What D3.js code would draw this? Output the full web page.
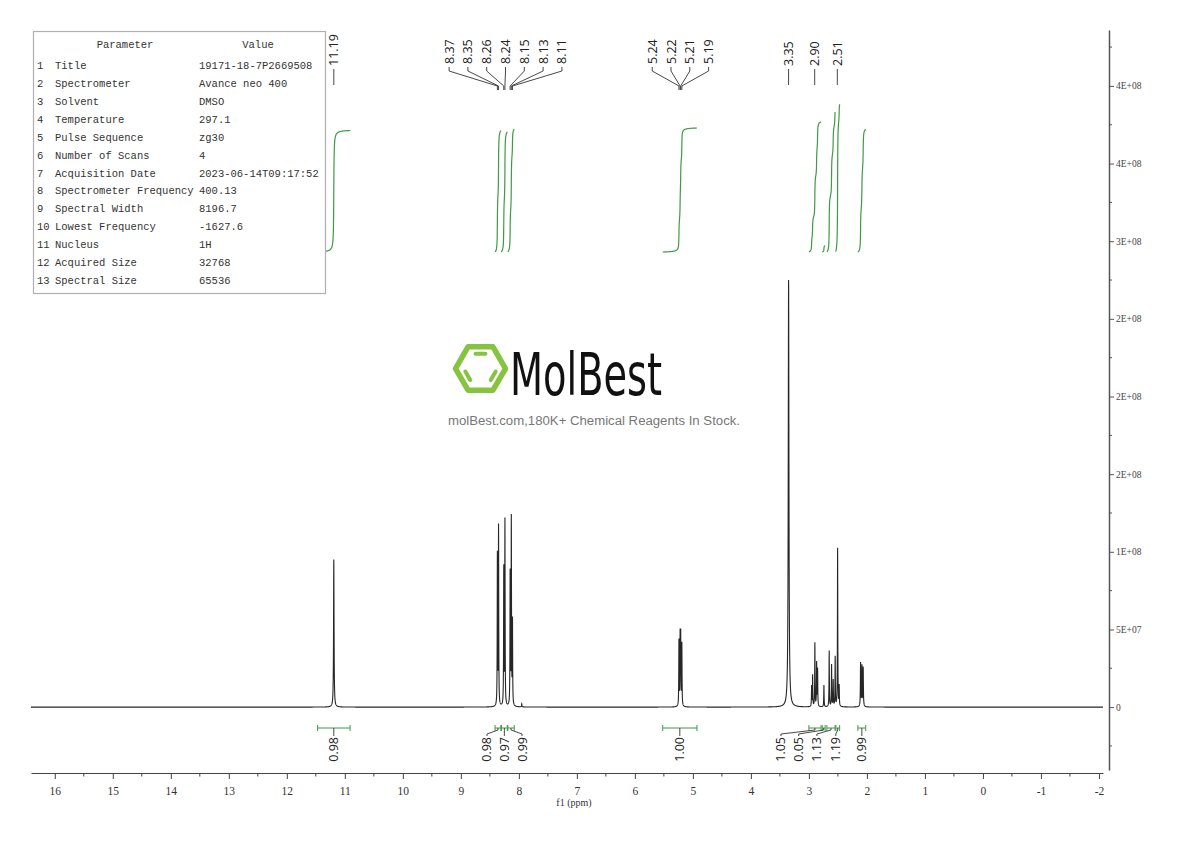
<!DOCTYPE html>
<html><head><meta charset="utf-8">
<script src="https://cdn.jsdelivr.net/npm/d3@7"></script>
<style>html,body{margin:0;padding:0;background:#fff}svg{display:block}</style>
</head><body>
<svg id="chart" width="1190" height="841"></svg>
<script>
// ---------------- data ----------------
const peakPpm    = [11.19, 8.37, 8.35, 8.26, 8.24, 8.15, 8.13, 8.11, 7.95, 5.24, 5.22, 5.21, 5.19, 3.35,
                    2.953, 2.936, 2.897, 2.867, 2.850, 2.741, 2.650, 2.609, 2.581, 2.547, 2.505, 2.478, 2.109, 2.086, 2.064];
const peakHeight = [95, 97, 115, 88, 119, 85, 120, 54, 2, 42, 44, 44, 40, 275,
                    13, 20, 41, 28, 24, 14, 36, 27, 17, 32, 102, 13, 28, 26, 25]; // x 1e6
const peakHwhm   = [0.005, 0.0035, 0.0035, 0.0035, 0.0035, 0.0035, 0.0035, 0.0035, 0.004, 0.0035, 0.0035, 0.0035, 0.0035, 0.007,
                    0.0035, 0.0035, 0.0035, 0.0035, 0.0035, 0.0035, 0.0035, 0.0035, 0.0035, 0.0035, 0.0035, 0.0035, 0.004, 0.004, 0.004];

const labelPpm   = [11.19, 8.37, 8.35, 8.26, 8.24, 8.15, 8.13, 8.11, 5.24, 5.22, 5.21, 5.19, 3.35, 2.90, 2.51];
const labelText  = ["11.19","8.37","8.35","8.26","8.24","8.15","8.13","8.11","5.24","5.22","5.21","5.19","3.35","2.90","2.51"];

const integralFrom   = [11.47, 8.41, 8.30, 8.19, 5.52, 3.00, 2.77, 2.69, 2.535, 2.155];
const integralTo     = [10.91, 8.31, 8.20, 8.08, 4.93, 2.79, 2.72, 2.55, 2.47, 2.02];
const integralValues = [0.98, 0.98, 0.97, 0.99, 1.00, 1.05, 0.05, 1.13, 1.19, 0.99];
const integralLabelDx = [0, -11, 0, 11, 0, -34, -25, -14, -2, 0]; // layout offsets of labels

const xTickValues = [16,15,14,13,12,11,10,9,8,7,6,5,4,3,2,1,0,-1,-2];
const xTickLabels = ["16","15","14","13","12","11","10","9","8","7","6","5","4","3","2","1","0","-1","-2"];
const yTickValues = [0, 5e7, 1e8, 1.5e8, 2e8, 2.5e8, 3e8, 3.5e8, 4e8];
const yTickLabels = ["0","5E+07","1E+08","2E+08","2E+08","2E+08","3E+08","4E+08","4E+08"];

const paramNames  = ["Title","Spectrometer","Solvent","Temperature","Pulse Sequence","Number of Scans","Acquisition Date",
                     "Spectrometer Frequency","Spectral Width","Lowest Frequency","Nucleus","Acquired Size","Spectral Size"];
const paramValues = ["19171-18-7P2669508","Avance neo 400","DMSO","297.1","zg30","4","2023-06-14T09:17:52",
                     "400.13","8196.7","-1627.6","1H","32768","65536"];

// ---------------- setup ----------------
const svg = d3.select("#chart");
const x = d3.scaleLinear().domain([16.41, -2.07]).range([31, 1103]);
const y = d3.scaleLinear().domain([-4.05e7, 4.36e8]).range([770, 30]);
const yInt = d3.scaleLinear().domain([0, 1]).range([252, 128]);

const GREEN = "#3f9a45";
const peaks = peakPpm.map((p, i) => ({p, h: peakHeight[i] * 1e6, w: peakHwhm[i]}));
function intensity(ppm) {
  let s = 0;
  for (const pk of peaks) { const d = ppm - pk.p; s += pk.h * pk.w * pk.w / (d * d + pk.w * pk.w); }
  return s;
}

// ---------------- spectrum ----------------
const [p0, p1] = x.domain();
const samplePpm = d3.range(p0, p1, -0.001).concat(peakPpm).sort((a, b) => b - a);
const spec = samplePpm.map(p => ({p, v: intensity(p)}));
svg.append("path")
  .datum(spec)
  .attr("fill", "none").attr("stroke", "#262626").attr("stroke-width", 1.1)
  .attr("d", d3.line().x(d => x(d.p)).y(d => y(d.v)));

// ---------------- integral curves ----------------
integralValues.forEach((val, i) => {
  const a = integralFrom[i], b = integralTo[i];
  const pts = d3.range(a, b, -0.0005).concat(peakPpm.filter(p => p < a && p > b)).concat([b]).sort((m, n) => n - m);
  let cum = 0; const cs = pts.map(p => { cum += intensity(p); return cum; });
  const total = cum || 1;
  const data = pts.map((p, k) => ({p, c: val * cs[k] / total}));
  svg.append("path").datum(data)
    .attr("fill", "none").attr("stroke", GREEN).attr("stroke-width", 1.2)
    .attr("d", d3.line().x(d => x(d.p)).y(d => yInt(d.c)));
});

// ---------------- integral brackets & labels ----------------
const brY = 728;
const gInt = svg.append("g");
integralValues.forEach((val, i) => {
  const xa = x(integralFrom[i]), xb = x(integralTo[i]);
  const cx = (xa + xb) / 2, lx = cx + integralLabelDx[i];
  gInt.append("path").attr("fill", "none").attr("stroke", GREEN).attr("stroke-width", 1)
    .attr("d", `M${xa},${brY - 3}V${brY + 3}M${xa},${brY}H${xb}M${xb},${brY - 3}V${brY + 3}`);
  const leader = Math.abs(lx - cx) < 0.5
    ? `M${cx},${brY}V${brY + 8}`
    : `M${cx},${brY}V${brY + 2}L${lx},${brY + 6}V${brY + 8}`;
  gInt.append("path").attr("fill", "none").attr("stroke", "#333").attr("stroke-width", 0.9).attr("d", leader);
  gInt.append("text")
    .attr("transform", `translate(${lx},${brY + 9}) rotate(-90)`)
    .attr("text-anchor", "end").attr("dy", "0.36em")
    .attr("font-family", "'Open Sans', 'DejaVu Sans', sans-serif").attr("font-size", 12.5).attr("fill", "#222")
    .text(val.toFixed(2));
});

// ---------------- peak labels ----------------
const lblSpacing = 18.8;
const lbl = labelPpm.map((p, i) => ({px: x(p), t: labelText[i]}));
const clusters = [];
lbl.forEach(d => {
  const last = clusters[clusters.length - 1];
  if (last && d.px - last[last.length - 1].px < lblSpacing) last.push(d); else clusters.push([d]);
});
const gLbl = svg.append("g");
clusters.forEach(cl => {
  const mean = d3.mean(cl, d => d.px);
  cl.forEach((d, k) => { d.lx = mean + (k - (cl.length - 1) / 2) * lblSpacing; d.single = cl.length === 1; });
});
lbl.forEach(d => {
  const lp = d.single ? `M${d.px},69V85` : `M${d.lx},67V71L${d.px},86V90`;
  gLbl.append("path").attr("fill", "none").attr("stroke", "#333").attr("stroke-width", 0.9).attr("d", lp);
  gLbl.append("text")
    .attr("transform", `translate(${d.single ? d.px : d.lx},${d.single ? 66 : 64}) rotate(-90)`)
    .attr("text-anchor", "start").attr("dy", "0.36em")
    .attr("font-family", "'Open Sans', 'DejaVu Sans', sans-serif").attr("font-size", 12.5).attr("fill", "#222")
    .text(d.t);
});

// ---------------- x axis ----------------
const axY = 773;
const gx = svg.append("g").attr("transform", `translate(0,${axY})`)
  .call(d3.axisBottom(x).tickValues(xTickValues).tickFormat((d, i) => xTickLabels[i]).tickSize(6).tickSizeOuter(0).tickPadding(8));
gx.select(".domain").attr("stroke", "#444").attr("stroke-width", 1.2);
gx.selectAll(".tick line").attr("stroke", "#444");
gx.selectAll(".tick text").attr("font-family", "'Liberation Serif', 'DejaVu Serif', serif").attr("font-size", 11.5).attr("fill", "#333");
const xMinor = xTickValues.slice(0, -1).map(v => v - 0.5);
svg.append("g").selectAll("line").data(xMinor).join("line")
  .attr("x1", d => x(d)).attr("x2", d => x(d)).attr("y1", axY).attr("y2", axY + 3.5)
  .attr("stroke", "#444");
svg.append("text").attr("x", x(7.05)).attr("y", 806).attr("text-anchor", "middle")
  .attr("font-family", "'Liberation Serif', 'DejaVu Serif', serif").attr("font-size", 10).attr("fill", "#333")
  .text("f1 (ppm)");

// ---------------- right y axis ----------------
const axX = 1109;
const gy = svg.append("g").attr("transform", `translate(${axX},0)`)
  .call(d3.axisRight(y).tickValues(yTickValues).tickFormat((d, i) => yTickLabels[i]).tickSize(5).tickSizeOuter(0).tickPadding(2));
gy.select(".domain").attr("stroke", "#555").attr("stroke-width", 1.5);
gy.selectAll(".tick line").attr("stroke", "#555");
gy.selectAll(".tick text").attr("font-family", "'Liberation Serif', 'DejaVu Serif', serif").attr("font-size", 9.5).attr("fill", "#444");
const yMinor = [-2.5e7].concat(yTickValues.map(v => v + 2.5e7));
svg.append("g").selectAll("line").data(yMinor).join("line")
  .attr("x1", axX).attr("x2", axX + 3).attr("y1", d => y(d)).attr("y2", d => y(d))
  .attr("stroke", "#555");

// ---------------- parameter table ----------------
const tbl = svg.append("g");
tbl.append("rect").attr("x", 33.5).attr("y", 31.5).attr("width", 292).attr("height", 262)
  .attr("fill", "#fff").attr("stroke", "#b0b0b0").attr("stroke-width", 1.2);
const tf = "'Liberation Mono', 'DejaVu Sans Mono', monospace";
tbl.append("text").attr("x", 125).attr("y", 48).attr("text-anchor", "middle").attr("font-family", tf).attr("font-size", 10.5).attr("fill", "#333").text("Parameter");
tbl.append("text").attr("x", 258).attr("y", 48).attr("text-anchor", "middle").attr("font-family", tf).attr("font-size", 10.5).attr("fill", "#333").text("Value");
paramNames.forEach((n, i) => {
  const yy = 69.3 + i * 17.87;
  tbl.append("text").attr("x", 37).attr("y", yy).attr("font-family", tf).attr("font-size", 10.5).attr("fill", "#333").text(String(i + 1));
  tbl.append("text").attr("x", 55).attr("y", yy).attr("font-family", tf).attr("font-size", 10.5).attr("fill", "#333").text(n);
  tbl.append("text").attr("x", 199).attr("y", yy).attr("font-family", tf).attr("font-size", 10.5).attr("fill", "#333").text(paramValues[i]);
});

// ---------------- watermark logo ----------------
const logo = svg.append("g");
const hx = 480.5, hy = 368.5, hr = 25;
const hexPts = d3.range(6).map(k => [hx + hr * Math.cos(k * Math.PI / 3), hy + hr * Math.sin(k * Math.PI / 3)]);
logo.append("polygon").attr("points", hexPts.map(p => p.join(",")).join(" "))
  .attr("fill", "none").attr("stroke", "#86c440").attr("stroke-width", 5.5).attr("stroke-linejoin", "round");
const ir = 15.5;
[[4, 5], [2, 3], [0, 1]].forEach(([a, b]) => {
  const a1 = a * Math.PI / 3 + 0.2, b1 = b * Math.PI / 3 - 0.2;
  logo.append("line")
    .attr("x1", hx + ir * Math.cos(a1)).attr("y1", hy + ir * Math.sin(a1))
    .attr("x2", hx + ir * Math.cos(b1)).attr("y2", hy + ir * Math.sin(b1))
    .attr("stroke", "#86c440").attr("stroke-width", 4).attr("stroke-linecap", "round");
});
logo.append("text").attr("x", 510).attr("y", 395)
  .attr("font-family", "'DejaVu Sans Condensed', 'Liberation Sans Narrow', 'DejaVu Sans', sans-serif")
  .attr("font-size", 58).attr("fill", "#111")
  .attr("textLength", 152).attr("lengthAdjust", "spacingAndGlyphs").text("MolBest");
logo.append("text").attr("x", 448).attr("y", 425)
  .attr("font-family", "'Liberation Sans', Arial, sans-serif").attr("font-size", 12.5).attr("fill", "#777")
  .attr("textLength", 292).attr("lengthAdjust", "spacingAndGlyphs")
  .text("molBest.com,180K+ Chemical Reagents In Stock.");
</script>
</body></html>
